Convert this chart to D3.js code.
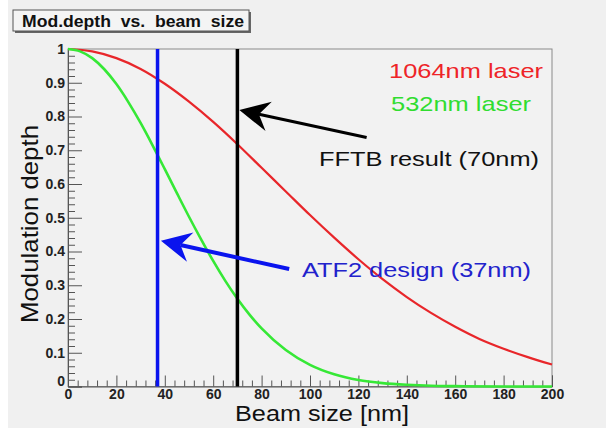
<!DOCTYPE html>
<html>
<head>
<meta charset="utf-8">
<script src="https://cdn.jsdelivr.net/npm/d3@7"></script>
<style>
  body { margin: 0; background: #ffffff; }
  svg { display: block; font-family: "Liberation Sans", Arial, sans-serif; }
</style>
</head>
<body>
<svg id="chart" width="606" height="428"></svg>
<script>
// beam size [nm] and modulation depth
const sizes1064 = [0, 10, 20, 30, 40, 50, 60, 70, 80, 90, 100, 110, 120, 130, 140, 150, 160, 170, 180, 190, 200];
const depth1064 = [1, 0.993, 0.973, 0.941, 0.897, 0.844, 0.784, 0.718, 0.648, 0.578, 0.508, 0.441, 0.377, 0.318, 0.265, 0.218, 0.177, 0.141, 0.112, 0.087, 0.065];
const sizes532 = [0, 5, 10, 15, 20, 25, 30, 35, 40, 45, 50, 55, 60, 65, 70, 75, 80, 90, 100, 110, 120, 130, 140, 150, 160, 180, 200];
const depth532 = [1, 0.993, 0.973, 0.94, 0.896, 0.842, 0.781, 0.714, 0.644, 0.573, 0.503, 0.436, 0.372, 0.313, 0.26, 0.213, 0.172, 0.108, 0.064, 0.036, 0.019, 0.01, 0.005, 0.002, 0.001, 0, 0];
const markers = [
    { size: 37, color: "#0a14ee", width: 3.5 },
    { size: 70, color: "#000000", width: 3.5 }
];
const xMajor = [0, 20, 40, 60, 80, 100, 120, 140, 160, 180, 200];
const yMajor = [0, 0.1, 0.2, 0.3, 0.4, 0.5, 0.6, 0.7, 0.8, 0.9, 1];

const margin = { left: 68, right: 54, top: 49, bottom: 41.5 };
const width = 606 - margin.left - margin.right;
const height = 428 - margin.top - margin.bottom;

let svg = d3.select('#chart');

// canvas background
svg.append('rect').attr('x', 8).attr('y', 0).attr('width', 598).attr('height', 428).attr('fill', '#f0f0f0');

let x = d3.scaleLinear().domain([0, 200]).range([0, width]);
let y = d3.scaleLinear().domain([0, 1]).range([height, 0]);

let plot = svg.append('g').attr('transform', 'translate(' + margin.left + ',' + margin.top + ')');

// frame
plot.append('rect').attr('width', width).attr('height', height)
    .attr('fill', '#f2f2f2').attr('stroke', '#8a8a8a').attr('stroke-width', 1);

// minor ticks
let xMinor = d3.range(0, 200.1, 4).filter(v => v % 20 !== 0);
let yMinor = d3.range(0, 1.001, 0.02).filter(v => Math.abs(v * 10 - Math.round(v * 10)) > 1e-6);

plot.append('g').attr('transform', 'translate(0,' + height + ')')
    .call(d3.axisBottom(x).tickValues(xMinor).tickSize(-6).tickFormat(''))
    .call(g => g.select('.domain').remove());
plot.append('g')
    .call(d3.axisLeft(y).tickValues(yMinor).tickSize(-7).tickFormat(''))
    .call(g => g.select('.domain').remove());

let xAxis = plot.append('g').attr('transform', 'translate(0,' + height + ')')
    .call(d3.axisBottom(x).tickValues(xMajor).tickSize(-11).tickPadding(3).tickFormat(d3.format('d')));
let yAxis = plot.append('g')
    .call(d3.axisLeft(y).tickValues(yMajor).tickSize(-14).tickPadding(3)
        .tickFormat(d => (d === 0 || d === 1) ? d3.format('d')(d) : d3.format('.1f')(d)));

[xAxis, yAxis].forEach(a => {
    a.selectAll('line').attr('stroke', '#555');
    a.select('.domain').attr('stroke', '#555');
    a.selectAll('text').attr('font-size', 14).attr('font-weight', 'bold').attr('fill', '#222')
        .attr('font-family', '"Liberation Sans", Arial, sans-serif');
});
plot.selectAll('.tick line').attr('stroke', '#555');
yAxis.selectAll('.tick').filter(d => d === 0).select('text').attr('dy', '-0.1em');

// curves
let line = d3.line().x(d => x(d[0])).y(d => y(d[1])).curve(d3.curveMonotoneX);
plot.append('path')
    .datum(sizes1064.map((s, i) => [s, depth1064[i]]))
    .attr('fill', 'none').attr('stroke', '#e8262a').attr('stroke-width', 2.2)
    .attr('d', line);
plot.append('path')
    .datum(sizes532.map((s, i) => [s, depth532[i]]))
    .attr('fill', 'none').attr('stroke', '#36e836').attr('stroke-width', 2.6)
    .attr('d', line);

// vertical markers
plot.selectAll('.marker')
    .data(markers)
    .join('line')
    .attr('class', 'marker')
    .attr('x1', d => x(d.size)).attr('x2', d => x(d.size))
    .attr('y1', y(0)).attr('y2', y(1))
    .attr('stroke', d => d.color).attr('stroke-width', d => d.width);

// arrows (ROOT style notched head)
function arrow(x0, y0, x1, y1, color, lw) {
    let px0 = x(x0), py0 = y(y0), px1 = x(x1), py1 = y(y1);
    let ang = Math.atan2(py1 - py0, px1 - px0);
    let len = 30, half = 15, notch = 20;
    let ux = Math.cos(ang), uy = Math.sin(ang);
    let bx = px1 - ux * len, by = py1 - uy * len;
    let nx = px1 - ux * notch, ny = py1 - uy * notch;
    plot.append('line').attr('x1', px0).attr('y1', py0).attr('x2', nx).attr('y2', ny)
        .attr('stroke', color).attr('stroke-width', lw);
    let pts = [[px1, py1], [bx - uy * half, by + ux * half], [nx, ny], [bx + uy * half, by - ux * half]];
    plot.append('path').attr('d', 'M' + pts.map(p => p.join(',')).join('L') + 'Z').attr('fill', color);
}
arrow(123.4, 0.738, 70.8, 0.819, '#000000', 3);
arrow(91.4, 0.348, 38.4, 0.432, '#0a14ee', 4);

// labels (the picture is a little stretched sideways, so widths are fixed)
function label(tx, ty, txt, color, size, len) {
    return svg.append('text').attr('x', tx).attr('y', ty)
        .attr('font-size', size).attr('fill', color)
        .attr('textLength', len).attr('lengthAdjust', 'spacingAndGlyphs').text(txt);
}
label(389, 78, '1064nm laser', '#ee2428', 21, 154);
label(391, 111, '532nm laser', '#30dd30', 21, 140);
label(319, 166, 'FFTB result (70nm)', '#111', 21, 220);
label(302, 277, 'ATF2 design (37nm)', '#2222cc', 21, 229);

// axis titles
label(235, 421, 'Beam size [nm]', '#111', 22, 174);
svg.append('text').attr('transform', 'translate(38,323) rotate(-90)')
    .attr('font-size', 24.5).attr('fill', '#111')
    .attr('textLength', 198).attr('lengthAdjust', 'spacingAndGlyphs').text('Modulation depth');

// title box
svg.append('rect').attr('x', 15).attr('y', 12).attr('width', 236).attr('height', 21).attr('fill', '#666');
svg.append('rect').attr('x', 13).attr('y', 10).attr('width', 236).attr('height', 21)
    .attr('fill', '#f4f4f4').attr('stroke', '#555').attr('stroke-width', 1);
svg.append('text').attr('x', 22).attr('y', 27).attr('font-size', 16.5).attr('font-weight', 'bold')
    .attr('fill', '#111').style('white-space', 'pre')
    .attr('textLength', 222).attr('lengthAdjust', 'spacingAndGlyphs')
    .text('Mod.depth  vs.  beam  size');
</script>
</body>
</html>
